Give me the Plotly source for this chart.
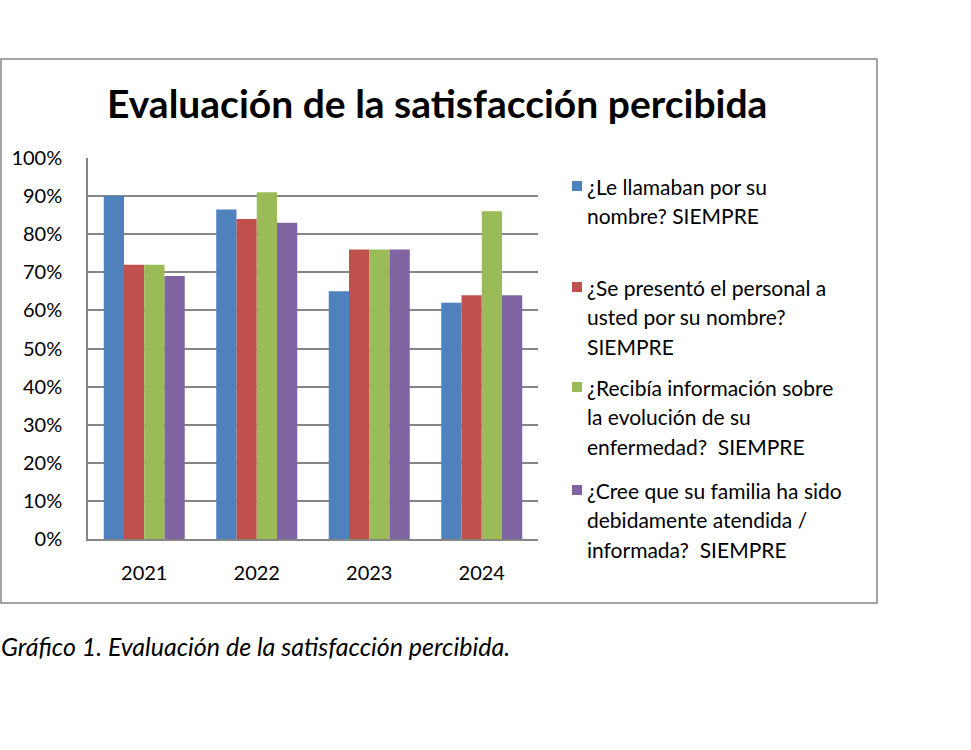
import plotly.graph_objects as go

years = ["2021", "2022", "2023", "2024"]
series_names = [
    "¿Le llamaban por su<br>nombre? SIEMPRE",
    "¿Se presentó el personal a<br>usted por su nombre?<br>SIEMPRE",
    "¿Recibía información sobre<br>la evolución de su<br>enfermedad?  SIEMPRE",
    "¿Cree que su familia ha sido<br>debidamente atendida /<br>informada?  SIEMPRE",
]
llamaban = [0.90, 0.865, 0.65, 0.62]
presento = [0.72, 0.84, 0.76, 0.64]
informacion = [0.72, 0.91, 0.76, 0.86]
familia = [0.69, 0.83, 0.76, 0.64]
y_ticks = [0, 0.1, 0.2, 0.3, 0.4, 0.5, 0.6, 0.7, 0.8, 0.9, 1.0]

colors = ["#4F81BD", "#C0504D", "#9BBB59", "#8064A2"]
values = [llamaban, presento, informacion, familia]

W, H = 971, 750
L, R, T, B = 88, 538, 158, 539  # plot area in pixels
FONT = "Lato"

def px_x(x):
    return (x - L) / (R - L)

def px_y(y):
    return (B - y) / (B - T)

fig = go.Figure()
for name, vals, c in zip(series_names, values, colors):
    fig.add_trace(go.Bar(x=years, y=vals, name=name, marker_color=c,
                         marker_line_width=0, showlegend=False))

shapes = []
annotations = []

# outer border
shapes.append(dict(type="rect", xref="paper", yref="paper",
                   x0=px_x(1), x1=px_x(877), y0=px_y(603), y1=px_y(59),
                   line=dict(color="#868686", width=1.5), fillcolor="rgba(0,0,0,0)", layer="below"))

# title
annotations.append(dict(text="<b>Evaluación de la satisfacción percibida</b>",
                        xref="paper", yref="paper", x=px_x(437), y=px_y(103),
                        xanchor="center", yanchor="middle", showarrow=False,
                        font=dict(family=FONT, size=39, color="#000000")))

# legend
starts = [186, 287, 387, 490]
line_gap = 29.5
for name, c, s in zip(series_names, colors, starts):
    shapes.append(dict(type="rect", xref="paper", yref="paper",
                       x0=px_x(572), x1=px_x(582), y0=px_y(s + 5), y1=px_y(s - 5),
                       line=dict(width=0), fillcolor=c))
    for i, line in enumerate(name.split("<br>")):
        annotations.append(dict(text=line, xref="paper", yref="paper",
                                x=px_x(585), y=px_y(s + i * line_gap),
                                xanchor="left", yanchor="middle", showarrow=False,
                                font=dict(family=FONT, size=21, color="#000000")))

# caption
annotations.append(dict(text="<i>Gráfico 1. Evaluación de la satisfacción percibida.</i>",
                        xref="paper", yref="paper", x=px_x(-1), y=px_y(646),
                        xanchor="left", yanchor="middle", showarrow=False,
                        font=dict(family=FONT, size=25, color="#000000")))

fig.update_layout(
    width=W, height=H,
    margin=dict(l=L, r=W - R, t=T, b=H - B, pad=0),
    paper_bgcolor="white", plot_bgcolor="white",
    barmode="group", bargap=0.28, bargroupgap=0,
    shapes=shapes, annotations=annotations,
    font=dict(family=FONT, size=20, color="#000000"),
)
fig.update_yaxes(range=[0, 1.0], tickvals=y_ticks, tickformat=".0%",
                 showgrid=True, gridcolor="#868686", gridwidth=1.5,
                 showline=True, linecolor="#868686", linewidth=1.5,
                 ticks="", ticklabelstandoff=20, zeroline=False,
                 tickfont=dict(family=FONT, size=20))
fig.update_xaxes(showline=True, linecolor="#868686", linewidth=1.5,
                 ticks="", ticklabelstandoff=15,
                 tickfont=dict(family=FONT, size=20))

fig.write_html("out.html", config={"displayModeBar": False},
               post_script="document.body.style.margin='0';")
